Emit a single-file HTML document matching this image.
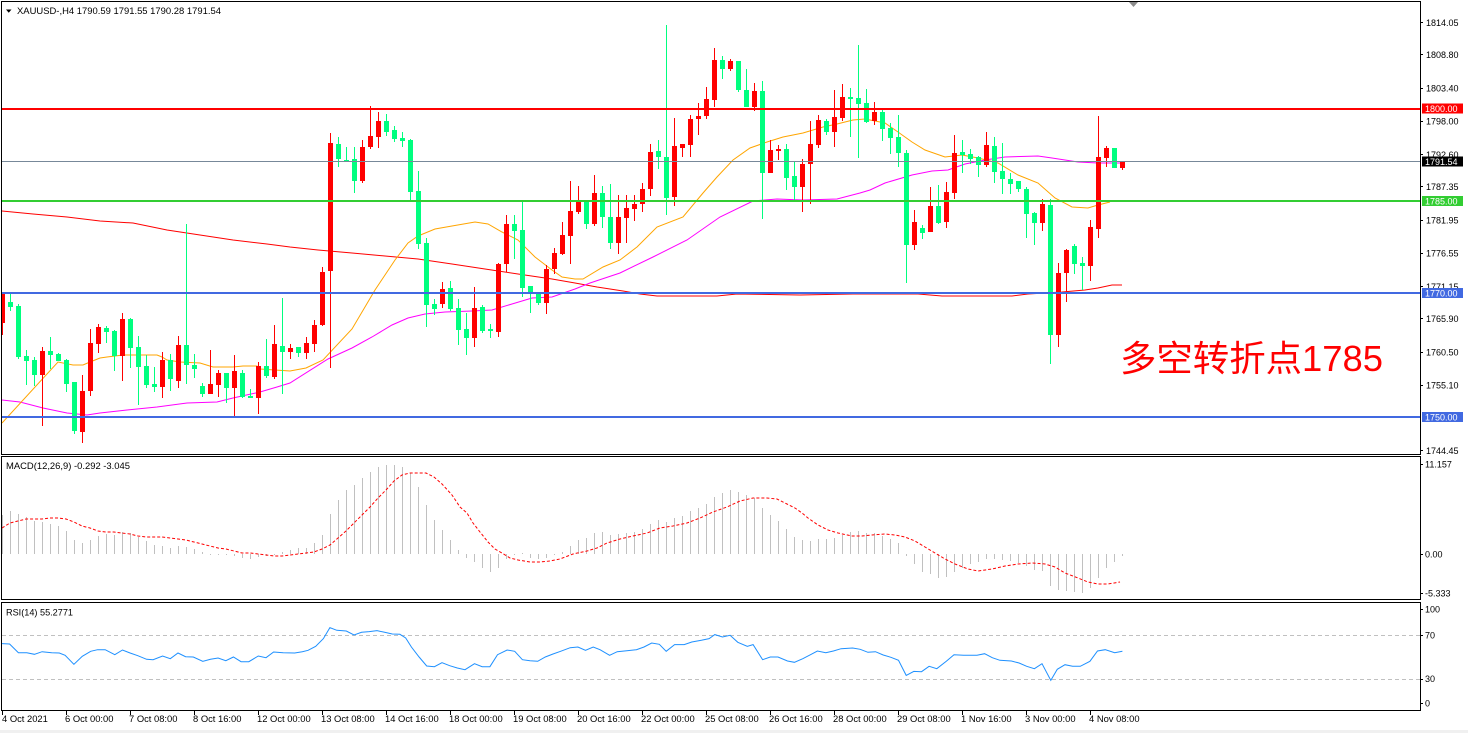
<!DOCTYPE html>
<html><head><meta charset="utf-8"><style>
html,body{margin:0;padding:0;background:#fff;width:1468px;height:733px;overflow:hidden}
svg{display:block}
text{font-family:"Liberation Sans","Noto Sans CJK SC",sans-serif;fill:#000}
</style></head><body>
<svg width="1468" height="733" viewBox="0 0 1468 733" xmlns="http://www.w3.org/2000/svg">
<defs>
<clipPath id="cm"><rect x="2" y="2" width="1418" height="452"/></clipPath>
<clipPath id="cd"><rect x="2" y="457" width="1418" height="142"/></clipPath>
<clipPath id="cr"><rect x="2" y="603" width="1418" height="107"/></clipPath>
</defs>
<rect x="0" y="730" width="1468" height="3" fill="#f0f0f0"/>

<!-- MAIN PANEL -->
<g clip-path="url(#cm)">
<!-- MA lines -->
<polyline fill="none" stroke="#FF0000" stroke-width="1" points="2,211 33,214 67,217 100,221 133,223 167,230 200,235 233,240 267,244 290,247 318,250 352,253 385,256 418,259 452,264 485,269 518,274 552,279 575,283 597,287 623,291 640,294 657,296 717,296 737,294 800,295 853,294 918,294 942,296 1012,296 1028,294 1062,292 1085,290 1098,288 1112,285 1122,285"/>
<polyline fill="none" stroke="#FF00FF" stroke-width="1" points="2,400 20,402 43,408 67,413 87,415 100,413 127,410 157,407 187,403 217,402 233,398 260,392 277,387 290,383 328,359 352,348 372,337 392,325 408,318 425,314 445,312 472,311 492,310 512,304 532,298 552,297 575,289 590,283 620,273 653,257 687,240 720,217 753,201 777,199 803,200 837,199 860,193 870,190 885,183 912,175 932,171 948,170 965,164 985,160 1005,157 1038,156 1052,158 1078,162 1098,163 1122,163"/>
<polyline fill="none" stroke="#FFA500" stroke-width="1" points="2,423 58,362 73,365 83,365 90,362 100,358 107,357 123,355 157,355 162,357 167,360 180,362 200,363 213,367 233,367 243,366 257,366 260,369 290,371 306,368 323,360 352,329 375,290 395,260 408,243 418,236 435,229 452,226 475,222 488,224 502,232 518,240 535,257 552,270 562,277 575,279 583,279 603,267 620,260 637,247 657,227 683,217 703,193 717,177 733,160 750,148 767,142 783,137 803,133 823,127 837,124 853,120 865,119 885,123 898,132 912,142 925,150 945,157 962,155 978,158 998,163 1018,175 1038,183 1055,198 1072,207 1088,208 1098,205 1110,202"/>
<!-- red candles -->
<path fill="#FF0000" shape-rendering="crispEdges" d="M2,293h1V335h-1Z M0,293h5V323h-5Z M42,347h1V426h-1Z M40,351h5V375h-5Z M82,375h1V443h-1Z M80,391h5V432h-5Z M90,329h1V396h-1Z M88,343h5V391h-5Z M98,324h1V353h-1Z M96,327h5V344h-5Z M122,313h1V381h-1Z M120,319h5V356h-5Z M162,352h1V398h-1Z M160,360h5V387h-5Z M178,336h1V388h-1Z M176,345h5V381h-5Z M210,350h1V394h-1Z M208,384h5V394h-5Z M218,370h1V397h-1Z M216,373h5V385h-5Z M234,355h1V416h-1Z M232,371h5V388h-5Z M258,362h1V414h-1Z M256,366h5V398h-5Z M274,325h1V379h-1Z M272,344h5V377h-5Z M290,344h1V359h-1Z M288,348h5V352h-5Z M306,337h1V359h-1Z M304,343h5V353h-5Z M314,320h1V352h-1Z M312,325h5V344h-5Z M322,267h1V326h-1Z M320,272h5V325h-5Z M330,133h1V368h-1Z M328,143h5V271h-5Z M362,140h1V183h-1Z M360,147h5V181h-5Z M370,106h1V149h-1Z M368,136h5V147h-5Z M378,112h1V148h-1Z M376,121h5V137h-5Z M442,282h1V308h-1Z M440,289h5V304h-5Z M474,287h1V347h-1Z M472,308h5V338h-5Z M498,263h1V337h-1Z M496,264h5V332h-5Z M506,215h1V272h-1Z M504,224h5V264h-5Z M546,265h1V314h-1Z M544,269h5V303h-5Z M554,248h1V274h-1Z M552,253h5V269h-5Z M562,222h1V255h-1Z M560,235h5V254h-5Z M570,181h1V264h-1Z M568,211h5V236h-5Z M578,186h1V214h-1Z M576,202h5V212h-5Z M594,175h1V226h-1Z M592,193h5V224h-5Z M618,195h1V254h-1Z M616,217h5V243h-5Z M626,195h1V243h-1Z M624,208h5V218h-5Z M634,195h1V221h-1Z M632,204h5V209h-5Z M642,183h1V212h-1Z M640,189h5V204h-5Z M650,144h1V196h-1Z M648,152h5V189h-5Z M674,118h1V206h-1Z M672,146h5V197h-5Z M682,144h1V157h-1Z M680,144h5V148h-5Z M690,115h1V157h-1Z M688,119h5V145h-5Z M698,103h1V135h-1Z M696,116h5V119h-5Z M706,87h1V119h-1Z M704,99h5V116h-5Z M714,48h1V107h-1Z M712,60h5V100h-5Z M730,59h1V71h-1Z M728,61h5V69h-5Z M754,83h1V111h-1Z M752,91h5V107h-5Z M770,140h1V173h-1Z M768,150h5V173h-5Z M778,145h1V160h-1Z M776,149h5V151h-5Z M802,159h1V212h-1Z M800,164h5V187h-5Z M810,121h1V204h-1Z M808,144h5V164h-5Z M818,115h1V148h-1Z M816,120h5V145h-5Z M834,90h1V147h-1Z M832,117h5V132h-5Z M842,84h1V121h-1Z M840,97h5V118h-5Z M874,102h1V125h-1Z M872,112h5V121h-5Z M914,210h1V250h-1Z M912,222h5V245h-5Z M930,187h1V232h-1Z M928,206h5V232h-5Z M946,182h1V228h-1Z M944,192h5V222h-5Z M954,135h1V199h-1Z M952,153h5V193h-5Z M986,132h1V167h-1Z M984,145h5V165h-5Z M1042,199h1V231h-1Z M1040,204h5V223h-5Z M1058,263h1V347h-1Z M1056,273h5V335h-5Z M1066,249h1V302h-1Z M1064,250h5V273h-5Z M1090,220h1V281h-1Z M1088,227h5V266h-5Z M1098,116h1V238h-1Z M1096,157h5V229h-5Z M1106,146h1V167h-1Z M1104,148h5V158h-5Z M1122,161h1V170h-1Z M1120,161h5V168h-5Z"/>
<!-- green candles -->
<path fill="#00FF7F" shape-rendering="crispEdges" d="M10,293h1V311h-1Z M8,302h5V307h-5Z M18,304h1V359h-1Z M16,306h5V357h-5Z M26,350h1V385h-1Z M24,356h5V361h-5Z M34,357h1V386h-1Z M32,360h5V375h-5Z M50,337h1V369h-1Z M48,351h5V355h-5Z M58,353h1V361h-1Z M56,354h5V361h-5Z M66,359h1V392h-1Z M64,360h5V384h-5Z M74,382h1V434h-1Z M72,382h5V431h-5Z M106,326h1V343h-1Z M104,328h5V332h-5Z M114,330h1V371h-1Z M112,331h5V356h-5Z M130,318h1V368h-1Z M128,319h5V348h-5Z M138,336h1V405h-1Z M136,347h5V367h-5Z M146,355h1V388h-1Z M144,366h5V385h-5Z M154,367h1V392h-1Z M152,384h5V387h-5Z M170,354h1V391h-1Z M168,360h5V379h-5Z M186,224h1V384h-1Z M184,345h5V365h-5Z M194,354h1V378h-1Z M192,365h5V369h-5Z M202,383h1V397h-1Z M200,386h5V394h-5Z M226,373h1V403h-1Z M224,373h5V388h-5Z M242,370h1V398h-1Z M240,373h5V397h-5Z M250,389h1V398h-1Z M248,396h5V398h-5Z M266,339h1V378h-1Z M264,366h5V376h-5Z M282,298h1V394h-1Z M280,346h5V352h-5Z M298,347h1V357h-1Z M296,347h5V353h-5Z M338,137h1V167h-1Z M336,144h5V159h-5Z M346,147h1V161h-1Z M344,160h5V162h-5Z M354,147h1V193h-1Z M352,159h5V181h-5Z M386,114h1V136h-1Z M384,121h5V132h-5Z M394,126h1V142h-1Z M392,130h5V139h-5Z M402,132h1V147h-1Z M400,138h5V141h-5Z M410,139h1V200h-1Z M408,140h5V192h-5Z M418,171h1V249h-1Z M416,191h5V244h-5Z M426,238h1V327h-1Z M424,243h5V305h-5Z M434,299h1V315h-1Z M432,304h5V309h-5Z M450,281h1V311h-1Z M448,288h5V309h-5Z M458,299h1V345h-1Z M456,308h5V330h-5Z M466,313h1V355h-1Z M464,329h5V338h-5Z M482,305h1V333h-1Z M480,307h5V331h-5Z M490,324h1V338h-1Z M488,329h5V331h-5Z M514,215h1V259h-1Z M512,224h5V231h-5Z M522,202h1V297h-1Z M520,230h5V288h-5Z M530,286h1V313h-1Z M528,286h5V292h-5Z M538,292h1V305h-1Z M536,294h5V303h-5Z M586,200h1V229h-1Z M584,202h5V224h-5Z M602,186h1V228h-1Z M600,193h5V217h-5Z M610,184h1V249h-1Z M608,217h5V243h-5Z M658,140h1V169h-1Z M656,151h5V157h-5Z M666,25h1V215h-1Z M664,157h5V198h-5Z M722,56h1V79h-1Z M720,60h5V69h-5Z M738,61h1V92h-1Z M736,61h5V90h-5Z M746,69h1V107h-1Z M744,90h5V107h-5Z M762,81h1V219h-1Z M760,91h5V173h-5Z M786,144h1V190h-1Z M784,149h5V178h-5Z M794,161h1V200h-1Z M792,176h5V187h-5Z M826,119h1V135h-1Z M824,121h5V132h-5Z M850,88h1V137h-1Z M848,97h5V99h-5Z M858,45h1V158h-1Z M856,98h5V104h-5Z M866,89h1V123h-1Z M864,103h5V122h-5Z M882,110h1V141h-1Z M880,112h5V129h-5Z M890,123h1V154h-1Z M888,128h5V138h-5Z M898,115h1V167h-1Z M896,137h5V153h-5Z M906,150h1V283h-1Z M904,153h5V245h-5Z M922,225h1V239h-1Z M920,228h5V233h-5Z M938,185h1V224h-1Z M936,206h5V223h-5Z M962,140h1V173h-1Z M960,152h5V155h-5Z M970,149h1V164h-1Z M968,154h5V159h-5Z M978,156h1V177h-1Z M976,157h5V165h-5Z M994,137h1V183h-1Z M992,146h5V172h-5Z M1002,143h1V194h-1Z M1000,171h5V179h-5Z M1010,173h1V194h-1Z M1008,179h5V184h-5Z M1018,181h1V192h-1Z M1016,181h5V189h-5Z M1026,187h1V238h-1Z M1024,189h5V214h-5Z M1034,212h1V245h-1Z M1032,213h5V223h-5Z M1050,199h1V364h-1Z M1048,205h5V335h-5Z M1074,244h1V274h-1Z M1072,246h5V264h-5Z M1082,257h1V290h-1Z M1080,263h5V266h-5Z M1114,148h1V168h-1Z M1112,148h5V168h-5Z"/>
<!-- horizontal levels -->
<g shape-rendering="crispEdges">
<rect x="2" y="108" width="1418" height="2" fill="#FF0000"/>
<rect x="2" y="161" width="1418" height="1" fill="#778899"/>
<rect x="2" y="200" width="1418" height="2" fill="#32CD32"/>
<rect x="2" y="292" width="1418" height="2" fill="#4169E1"/>
<rect x="2" y="416" width="1418" height="2" fill="#4169E1"/>
</g>
</g>
<text x="1120" y="371" font-size="36" textLength="263" lengthAdjust="spacingAndGlyphs" style="fill:#FF0000">多空转折点1785</text>

<!-- header -->
<polygon points="6,9.5 11.5,9.5 8.75,12.8" fill="#000"/>
<text x="17" y="14" font-size="9.3" textLength="204" lengthAdjust="spacingAndGlyphs">XAUUSD-,H4  1790.59 1791.55 1790.28 1791.54</text>
<polygon points="1129,2 1138,2 1133.5,7" fill="#8c8c8c"/>

<!-- MACD -->
<g clip-path="url(#cd)">
<path fill="none" stroke="#C0C0C0" stroke-width="1" shape-rendering="crispEdges" d="M2.5,554V515M10.5,554V511M18.5,554V514M26.5,554V517M34.5,554V521M42.5,554V522M50.5,554V524M58.5,554V526M66.5,554V531M74.5,554V540M82.5,554V543M90.5,554V540M98.5,554V536M106.5,554V534M114.5,554V535M122.5,554V532M130.5,554V533M138.5,554V537M146.5,554V541M154.5,554V545M162.5,554V546M170.5,554V548M178.5,554V546M186.5,554V547M194.5,554V549M202.5,554V552M210.5,554V555M218.5,554V555M226.5,554V555M234.5,554V556M242.5,554V558M250.5,554V559M258.5,554V557M266.5,554V556M274.5,554V555M282.5,554V552M290.5,554V550M298.5,554V548M306.5,554V548M314.5,554V543M322.5,554V535M330.5,554V514M338.5,554V500M346.5,554V490M354.5,554V485M362.5,554V478M370.5,554V472M378.5,554V467M386.5,554V465M394.5,554V465M402.5,554V467M410.5,554V473M418.5,554V487M426.5,554V505M434.5,554V520M442.5,554V530M450.5,554V540M458.5,554V550M466.5,554V558M474.5,554V562M482.5,554V568M490.5,554V572M498.5,554V568M506.5,554V559M514.5,554V555M522.5,554V553M530.5,554V558M538.5,554V559M546.5,554V558M554.5,554V555M562.5,554V552M570.5,554V546M578.5,554V540M586.5,554V538M594.5,554V533M602.5,554V532M610.5,554V535M618.5,554V534M626.5,554V533M634.5,554V532M642.5,554V529M650.5,554V524M658.5,554V520M666.5,554V522M674.5,554V518M682.5,554V516M690.5,554V511M698.5,554V508M706.5,554V504M714.5,554V497M722.5,554V493M730.5,554V490M738.5,554V492M746.5,554V495M754.5,554V498M762.5,554V508M770.5,554V515M778.5,554V521M786.5,554V529M794.5,554V537M802.5,554V540M810.5,554V541M818.5,554V539M826.5,554V539M834.5,554V538M842.5,554V535M850.5,554V532M858.5,554V531M866.5,554V533M874.5,554V533M882.5,554V536M890.5,554V539M898.5,554V543M906.5,554V556M914.5,554V564M922.5,554V572M930.5,554V574M938.5,554V578M946.5,554V577M954.5,554V572M962.5,554V568M970.5,554V564M978.5,554V562M986.5,554V559M994.5,554V559M1002.5,554V560M1010.5,554V561M1018.5,554V563M1026.5,554V566M1034.5,554V570M1042.5,554V571M1050.5,554V586M1058.5,554V590M1066.5,554V591M1074.5,554V592M1082.5,554V593M1090.5,554V588M1098.5,554V578M1106.5,554V568M1114.5,554V562M1122.5,554V556"/>
<polyline fill="none" stroke="#FF0000" stroke-width="1" stroke-dasharray="3,2" points="2,528 10,523 18,521 26,519 34,519 42,519 50,518 58,518 66,519 74,522 82,526 90,528 98,531 106,532 114,532 122,533 130,534 138,536 146,537 154,537 162,537 170,538 178,539 186,540 194,542 202,544 210,546 218,548 226,549 234,551 242,553 250,553 258,554 266,555 274,556 282,556 290,555 298,554 306,553 314,552 322,549 330,545 338,538 346,531 354,523 362,515 370,507 378,498 386,490 394,481 402,475 410,473 418,473 426,473 434,477 442,484 452,495 460,507 467,513 473,523 480,532 488,542 495,549 502,553 510,558 518,560 530,562 540,562 550,561 560,559 573,554 587,551 597,548 607,543 620,539 633,536 647,533 660,528 673,526 687,523 700,518 713,512 727,507 740,501 753,498 767,498 777,499 787,504 795,508 802,513 808,518 818,525 828,530 838,533 852,536 862,536 872,535 885,534 895,535 905,537 915,541 925,547 935,553 945,559 955,564 968,569 978,571 992,569 1005,566 1018,564 1032,563 1045,564 1055,567 1065,573 1078,578 1088,582 1098,584 1108,584 1120,582"/>
</g>
<text x="6" y="469" font-size="9.4" textLength="124" lengthAdjust="spacingAndGlyphs">MACD(12,26,9) -0.292 -3.045</text>

<!-- RSI -->
<g clip-path="url(#cr)">
<g stroke="#C0C0C0" stroke-width="1" stroke-dasharray="4,3" shape-rendering="crispEdges">
<line x1="2" y1="635.5" x2="1420" y2="635.5"/>
<line x1="2" y1="679.5" x2="1420" y2="679.5"/>
</g>
<polyline fill="none" stroke="#1E90FF" stroke-width="1" points="1.9,643.6 9.6,644 18.4,652.7 26.8,652.7 34.4,654.3 42.1,651.7 51.7,652.7 59.3,653 65.1,655.3 73.9,664.3 82.3,656.3 90.7,651.3 97.6,649.7 105.2,649.7 114.8,654.7 122.5,650 130.1,653 137.8,655.7 146.6,659.3 153.1,659.7 162.6,656 170.3,658.7 178,653 185.6,656.7 193.3,657 202.8,661.3 210.5,659.3 218.1,658 225.8,660.7 233.4,657 241.1,661.7 248.8,661.7 258.3,656 266,657.7 273.6,652 283.2,652.7 294.7,653 302.3,651.7 308.1,650.3 315.7,646.3 323.4,638.6 329.9,627.6 336.8,630.3 346.3,631 354,635 361.6,632.3 369.3,631.6 377,630.6 384.6,632.3 392.3,634 399.9,634.3 405.7,638 411.4,647 419.1,657 426.7,666 434.4,666.7 442,662.7 449.7,665.7 457.3,668 465,669.7 474.5,663.7 482.2,666.7 489.9,666.7 497.5,654.7 507.1,650 514.7,651.3 522.4,659.7 530,660.7 537.7,661.3 545.3,657 553,654 560.6,651.3 570.2,647.7 577.9,647 585.5,650.3 593.2,647 600,649.7 609.6,655.3 617.2,651.7 626.8,650.7 636.4,649.7 644,647 651.7,643 659.3,644.3 666.2,651.3 674.6,644.6 684.2,644.6 691.8,642 701.4,640.3 709.1,638.6 714.8,634.6 722.5,637 730.1,635.3 737.8,642.3 747.3,646.3 753.1,644.6 762.6,659.7 770.3,657 778,657 787.5,661 794.4,662.3 802.8,658.7 810.5,654.7 817.4,651 825.8,652.7 833.4,651 841.1,648.7 852.6,648 860.2,649.3 867.9,652.3 875.5,651.7 883.2,655 890.9,657.3 898.5,660.3 906.2,675.4 913.8,671.4 921.5,671.7 929.1,666.3 936.8,668.7 946.3,661.3 954,654.7 963.6,655.3 977,655.3 984.6,653.7 992.3,657.7 999.9,660.3 1011.4,661 1019.1,663 1026.7,666.3 1034.4,668.7 1042,663.7 1050.8,680.4 1057.3,669.3 1065,664.7 1072.6,666.3 1080.3,666.3 1089.9,661.3 1097.5,651 1105.2,649.7 1114.7,652.7 1122.4,651.3"/>
</g>
<text x="6" y="615.5" font-size="9.4" textLength="67" lengthAdjust="spacingAndGlyphs">RSI(14) 55.2771</text>

<!-- frames -->
<g fill="none" stroke="#000" stroke-width="1" shape-rendering="crispEdges">
<rect x="1.5" y="1.5" width="1419" height="453"/>
<rect x="1.5" y="456.5" width="1419" height="143"/>
<rect x="1.5" y="602.5" width="1419" height="108"/>
</g>

<!-- right axis ticks -->
<path stroke="#000" stroke-width="1" shape-rendering="crispEdges" fill="none" d="M1420,22.5h3M1420,54.5h3M1420,88.5h3M1420,121.5h3M1420,154.5h3M1420,186.5h3M1420,220.5h3M1420,253.5h3M1420,286.5h3M1420,318.5h3M1420,352.5h3M1420,385.5h3M1420,450.5h3M1420,464.5h3M1420,554.5h3M1420,593.5h3M1420,609.5h3M1420,635.5h3M1420,679.5h3M1420,703.5h3"/>
<g font-size="9">
<text x="1426" y="25.8">1814.05</text>
<text x="1426" y="58">1808.80</text>
<text x="1426" y="91.4">1803.40</text>
<text x="1426" y="124.6">1798.00</text>
<text x="1426" y="157.8">1792.60</text>
<text x="1426" y="190.1">1787.35</text>
<text x="1426" y="223.4">1781.95</text>
<text x="1426" y="256.6">1776.55</text>
<text x="1426" y="289.8">1771.15</text>
<text x="1426" y="322.2">1765.90</text>
<text x="1426" y="355.4">1760.50</text>
<text x="1426" y="388.6">1755.10</text>
<text x="1426" y="454.2">1744.45</text>
<text x="1425" y="467.3">11.157</text>
<text x="1425" y="557.6">0.00</text>
<text x="1425" y="596.6">-5.333</text>
<text x="1425" y="612.6">100</text>
<text x="1425" y="638.6">70</text>
<text x="1425" y="682">30</text>
<text x="1425" y="706.6">0</text>
</g>
<!-- level labels -->
<g shape-rendering="crispEdges">
<rect x="1422" y="103.5" width="41" height="10" fill="#FF0000"/>
<rect x="1422" y="156.5" width="41" height="10" fill="#000"/>
<rect x="1422" y="196" width="41" height="10" fill="#32CD32"/>
<rect x="1422" y="288" width="41" height="10" fill="#4169E1"/>
<rect x="1422" y="412" width="41" height="10" fill="#4169E1"/>
</g>
<g font-size="9" style="fill:#fff">
<text x="1425" y="111.8" style="fill:#fff">1800.00</text>
<text x="1425" y="164.8" style="fill:#fff">1791.54</text>
<text x="1425" y="204.3" style="fill:#fff">1785.00</text>
<text x="1425" y="296.3" style="fill:#fff">1770.00</text>
<text x="1425" y="420.3" style="fill:#fff">1750.00</text>
</g>

<!-- x axis -->
<path stroke="#000" stroke-width="1" shape-rendering="crispEdges" fill="none" d="M2.5,711V715M66.5,711V715M130.5,711V715M194.5,711V715M258.5,711V715M322.5,711V715M386.5,711V715M450.5,711V715M514.5,711V715M578.5,711V715M642.5,711V715M706.5,711V715M770.5,711V715M834.5,711V715M898.5,711V715M962.5,711V715M1026.5,711V715M1090.5,711V715"/>
<g font-size="9.4">
<text x="2" y="722">4 Oct 2021</text>
<text x="65" y="722">6 Oct 00:00</text>
<text x="129" y="722">7 Oct 08:00</text>
<text x="193" y="722">8 Oct 16:00</text>
<text x="257" y="722">12 Oct 00:00</text>
<text x="321" y="722">13 Oct 08:00</text>
<text x="385" y="722">14 Oct 16:00</text>
<text x="449" y="722">18 Oct 00:00</text>
<text x="513" y="722">19 Oct 08:00</text>
<text x="577" y="722">20 Oct 16:00</text>
<text x="641" y="722">22 Oct 00:00</text>
<text x="705" y="722">25 Oct 08:00</text>
<text x="769" y="722">26 Oct 16:00</text>
<text x="833" y="722">28 Oct 00:00</text>
<text x="897" y="722">29 Oct 08:00</text>
<text x="961" y="722">1 Nov 16:00</text>
<text x="1025" y="722">3 Nov 00:00</text>
<text x="1089" y="722">4 Nov 08:00</text>
</g>
</svg>
</body></html>
